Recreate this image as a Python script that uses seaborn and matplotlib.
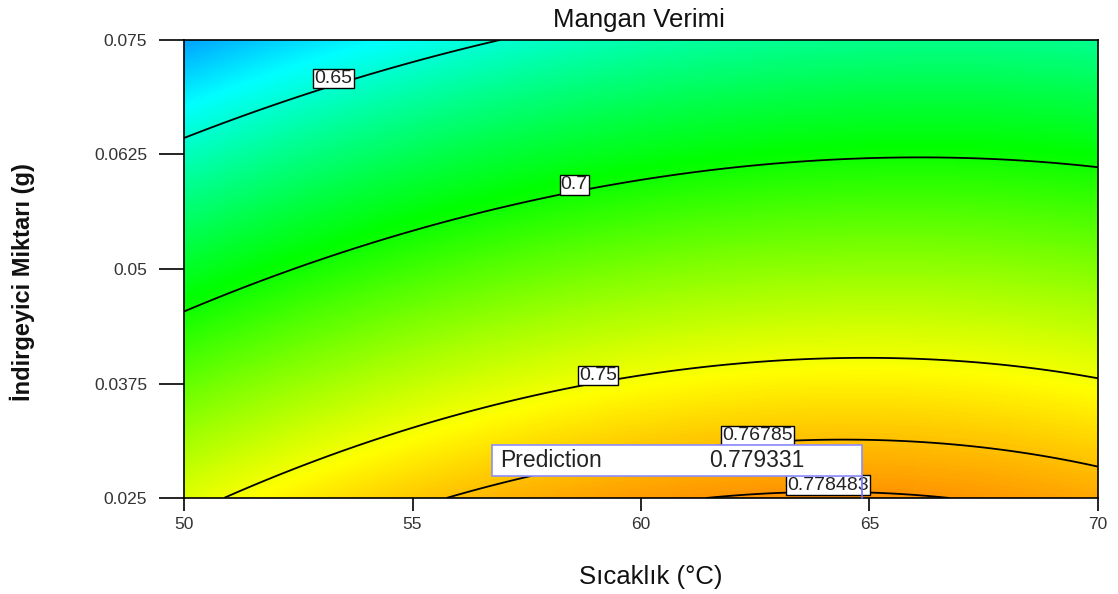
import numpy as np
import matplotlib
matplotlib.use("Agg")
import matplotlib.pyplot as plt
from matplotlib.colors import LinearSegmentedColormap
from matplotlib.patches import Rectangle
import seaborn as sns

# Factor ranges
temp_range = [50, 70]            # Sıcaklık (°C)
amount_range = [0.025, 0.075]    # İndirgeyici Miktarı (g)

# Quadratic model in coded factors: intercept, A, B, AB, A^2, B^2
coef_names = ["Intercept", "A", "B", "AB", "A2", "B2"]
coef_values = [0.7239, 0.0185, -0.05905, 0.0046, -0.0170, -0.0061]

contour_levels = [0.65, 0.7, 0.75, 0.76785, 0.778483]
contour_label_text = ["0.65", "0.7", "0.75", "0.76785", "0.778483"]

x_ticks = [50, 55, 60, 65, 70]
y_ticks = [0.025, 0.0375, 0.05, 0.0625, 0.075]
y_ticklabels = ["0.025", "0.0375", "0.05", "0.0625", "0.075"]

pred_temp = 64.84
pred_amount = 0.025
pred_value = 0.779331

sns.set_theme(style="white")
plt.rcParams["font.family"] = ["Liberation Sans", "DejaVu Sans"]


def response(temp, amount):
    c = dict(zip(coef_names, coef_values))
    a = (temp - 60.0) / 10.0
    b = (amount - 0.05) / 0.025
    return (c["Intercept"] + c["A"] * a + c["B"] * b + c["AB"] * a * b
            + c["A2"] * a ** 2 + c["B2"] * b ** 2)


tt = np.linspace(temp_range[0], temp_range[1], 400)
mm = np.linspace(amount_range[0], amount_range[1], 400)
T, M = np.meshgrid(tt, mm)
Z = response(T, M)

# Blue -> cyan -> green -> yellow -> red response scale
vmin, vmax = 0.581, 0.815
stops = [0.581, 0.640, 0.697, 0.753, 0.815]
stop_colors = ["#0000ff", "#00ffff", "#00ff00", "#ffff00", "#ff0000"]
cmap = LinearSegmentedColormap.from_list(
    "de_rainbow",
    [((s - vmin) / (vmax - vmin), c) for s, c in zip(stops, stop_colors)])

fig = plt.figure(figsize=(11.18, 5.94), dpi=100)
ax = fig.add_axes([0.1646, 0.1616, 0.8175, 0.7711])

ax.imshow(Z, origin="lower", extent=[temp_range[0], temp_range[1],
                                     amount_range[0], amount_range[1]],
          aspect="auto", cmap=cmap, vmin=vmin, vmax=vmax,
          interpolation="bilinear")

cs = ax.contour(T, M, Z, levels=contour_levels, colors="black",
                linewidths=1.3)
fmt = dict(zip(contour_levels, contour_label_text))
label_pos = [(53.22, 0.0708), (58.51, 0.0592), (59.04, 0.0382),
             (62.54, 0.0316), (64.09, 0.0262)]
labels = ax.clabel(cs, levels=contour_levels, fmt=fmt, inline=False,
                   fontsize=14, manual=label_pos)
# Lift each label box slightly so it rides on top of its line
lift = 0.00075
for t in labels:
    x, y = t.get_position()
    t.set_position((x, y + lift))
    t.set_rotation(0)
    t.set_color("#222222")
    t.set_zorder(4)
    t.set_bbox(dict(facecolor="white", edgecolor="black", linewidth=1,
                    boxstyle="square,pad=0.06"))

# Prediction flag
box_w = 8.1
box_bottom = pred_amount + 0.0024
box_h = 0.00338
ax.plot([pred_temp, pred_temp], [pred_amount, box_bottom],
        color="#6f6fff", lw=1.2, zorder=6, clip_on=False)
ax.add_patch(Rectangle((pred_temp - box_w, box_bottom), box_w, box_h,
                       facecolor="white", edgecolor="#8c8cff", lw=1.2,
                       zorder=6))
ax.text(pred_temp - box_w + 0.18, box_bottom + box_h / 2, "Prediction",
        fontsize=16.5, va="center", ha="left", color="#222222", zorder=7)
ax.text(pred_temp - box_w + 4.75, box_bottom + box_h / 2, f"{pred_value:.6f}",
        fontsize=16.5, va="center", ha="left", color="#222222", zorder=7)

ax.set_xlim(temp_range)
ax.set_ylim(amount_range)
ax.set_xticks(x_ticks)
ax.set_xticklabels([str(v) for v in x_ticks])
ax.set_yticks(y_ticks)
ax.set_yticklabels(y_ticklabels)
ax.tick_params(axis="y", direction="out", length=18, width=1.2,
               labelsize=12.5, pad=8.5, colors="black", labelcolor="#333333",
               left=True)
ax.tick_params(axis="x", direction="out", length=9, width=1.2,
               labelsize=12.5, pad=4.5, colors="black", labelcolor="#333333",
               bottom=True)
for s in ax.spines.values():
    s.set_color("black")
    s.set_linewidth(1.2)

ax.text(0.498, 1.0437, "Mangan Verimi", transform=ax.transAxes,
        fontsize=18.5, color="#111111", ha="center", va="center")
ax.set_xlabel("Sıcaklık (°C)", fontsize=18.5, color="#111111")
ax.set_ylabel("İndirgeyici Miktarı (g)", fontsize=17, fontweight="bold",
              color="#111111")
ax.xaxis.label.set_va("center")
ax.yaxis.label.set_va("center")
ax.xaxis.set_label_coords(0.511, -0.172)
ax.yaxis.set_label_coords(-0.177, 0.4716)

fig.savefig("out.png", dpi=100)
